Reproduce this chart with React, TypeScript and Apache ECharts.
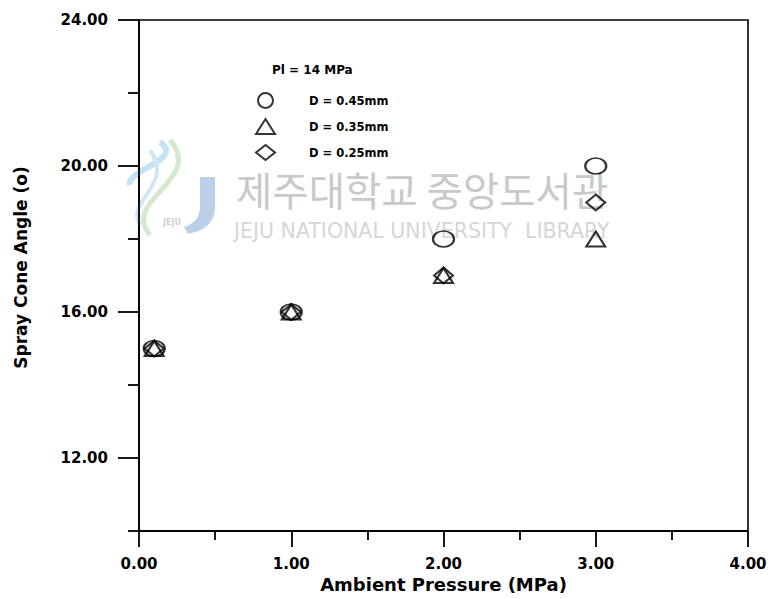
import React, { useEffect, useRef } from "react";
import * as echarts from "echarts";

// Spray cone angle vs ambient pressure, injection pressure 14 MPa
const pressures = [0.1, 1.0, 2.0, 3.0];
const angleD045 = [15, 16, 18, 20];
const angleD035 = [15, 16, 17, 18];
const angleD025 = [15, 16, 17, 19];
const seriesNames = ["D = 0.45mm", "D = 0.35mm", "D = 0.25mm"];
const yMajorTicks = [12, 16, 20, 24];
const yMinorTicks = [10, 14, 18, 22];

const ELLIPSE = "path://M0,50 A50,50 0 1,1 100,50 A50,50 0 1,1 0,50 Z";
const FONT = "DejaVu Sans";

// Library watermark: "J" mark of the logo
echarts.graphic.registerShape(
  "jejuJ",
  echarts.graphic.extendPath(
    "M0,0 L15,0 L15,30 Q15,52 -12,57 L-16,50 Q0,45 0,30 Z",
    {}
  )
);

function pairs(values: number[]) {
  return pressures.map((p, i) => [p, values[i]]);
}

export default function App() {
  const ref = useRef<HTMLDivElement>(null);

  useEffect(() => {
    if (!ref.current) return;
    const chart = echarts.init(ref.current, undefined, { renderer: "svg" });

    const markerStyle = {
      color: "rgba(0,0,0,0)",
      borderColor: "#000",
      borderWidth: 2,
    };

    chart.setOption({
      animation: false,
      backgroundColor: "#fff",
      title: {
        text: "Pl = 14 MPa",
        left: 272,
        top: 64,
        padding: 0,
        textStyle: { fontFamily: FONT, fontWeight: "bold", fontSize: 12, color: "#000" },
      },
      legend: {
        orient: "vertical",
        left: 255,
        top: 92,
        padding: 0,
        itemWidth: 19,
        itemHeight: 15,
        itemGap: 9,
        itemStyle: { color: "rgba(0,0,0,0)", borderColor: "#000", borderWidth: 2 },
        textStyle: {
          fontFamily: FONT,
          fontWeight: "bold",
          fontSize: 11.5,
          color: "#000",
          padding: [0, 0, 0, 29],
        },
        data: seriesNames,
      },
      grid: {
        left: 139,
        top: 20,
        right: 25,
        bottom: 68,
        show: true,
        borderColor: "#000",
        borderWidth: 1.6,
      },
      graphic: [
        {
          type: "group",
          z: -10,
          silent: true,
          children: [
            {
              type: "bezierCurve",
              shape: { x1: 160, y1: 142, x2: 130, y2: 185, cpx1: 185, cpy1: 160, cpx2: 125, cpy2: 170 },
              style: { stroke: "#c5e3f0", lineWidth: 6, fill: "none" },
            },
            {
              type: "bezierCurve",
              shape: { x1: 170, y1: 140, x2: 150, y2: 235, cpx1: 205, cpy1: 180, cpx2: 120, cpy2: 200 },
              style: { stroke: "#d6e9cf", lineWidth: 5, fill: "none" },
            },
            {
              type: "bezierCurve",
              shape: { x1: 150, y1: 150, x2: 140, y2: 225, cpx1: 175, cpy1: 185, cpx2: 125, cpy2: 200 },
              style: { stroke: "#cfe6f3", lineWidth: 4, fill: "none" },
            },
            {
              type: "jejuJ",
              x: 200,
              y: 177,
              style: { fill: "#bccfe8" },
            },
            {
              type: "text",
              x: 172,
              y: 218,
              style: { text: "JEJU", fill: "#cfcfcf", font: "bold 8px 'DejaVu Sans'", align: "center" },
            },
            {
              type: "text",
              x: 236,
              y: 169,
              style: {
                text: "제주대학교 중앙도서관",
                fill: "#c9c9c9",
                font: "39.5px 'Noto Sans CJK KR'",
              },
            },
            {
              type: "text",
              x: 234,
              y: 220,
              style: {
                text: "JEJU NATIONAL UNIVERSITY  LIBRARY",
                fill: "#d6d6d6",
                font: "20.5px 'DejaVu Sans'",
              },
            },
          ],
        },
      ],
      xAxis: {
        type: "value",
        min: 0,
        max: 4,
        interval: 1,
        name: "Ambient Pressure (MPa)",
        nameLocation: "middle",
        nameGap: 44,
        nameTextStyle: { fontFamily: FONT, fontWeight: "bold", fontSize: 18, color: "#000" },
        axisLine: { show: true, lineStyle: { color: "#000", width: 1.8 } },
        axisTick: { show: true, length: 16, lineStyle: { color: "#000", width: 1.8 } },
        minorTick: { show: true, splitNumber: 2, length: 9, lineStyle: { color: "#000", width: 1.8 } },
        splitLine: { show: false },
        axisLabel: {
          margin: 25,
          color: "#000",
          fontFamily: FONT,
          fontWeight: "bold",
          fontSize: 15,
          formatter: (v: number) => v.toFixed(2),
        },
      },
      yAxis: [
        {
          type: "value",
          position: "left",
          min: 10,
          max: 24,
          interval: 2,
          name: "Spray Cone Angle (o)",
          nameLocation: "middle",
          nameGap: 110,
          nameRotate: 90,
          nameTextStyle: {
            fontFamily: FONT,
            fontWeight: "bold",
            fontSize: 17,
            color: "#000",
            padding: [0, 0, 0, 16],
          },
          axisLine: { show: true, lineStyle: { color: "#000", width: 1.8 } },
          axisTick: {
            show: true,
            length: 21,
            customValues: yMajorTicks,
            lineStyle: { color: "#000", width: 1.8 },
          },
          splitLine: { show: false },
          axisLabel: {
            margin: 31,
            color: "#000",
            fontFamily: FONT,
            fontWeight: "bold",
            fontSize: 15,
            customValues: yMajorTicks,
            formatter: (v: number) => v.toFixed(2),
          },
        },
        {
          type: "value",
          position: "left",
          min: 10,
          max: 24,
          interval: 2,
          axisLine: { show: false },
          axisTick: {
            show: true,
            length: 11,
            customValues: yMinorTicks,
            lineStyle: { color: "#000", width: 1.8 },
          },
          axisLabel: { show: false },
          splitLine: { show: false },
        },
      ],
      series: [
        {
          name: seriesNames[0],
          type: "scatter",
          yAxisIndex: 0,
          symbol: ELLIPSE,
          symbolSize: [21, 16],
          itemStyle: markerStyle,
          emphasis: { disabled: true },
          data: pairs(angleD045),
        },
        {
          name: seriesNames[1],
          type: "scatter",
          yAxisIndex: 0,
          symbol: "triangle",
          symbolSize: [19, 15],
          itemStyle: markerStyle,
          emphasis: { disabled: true },
          data: pairs(angleD035),
        },
        {
          name: seriesNames[2],
          type: "scatter",
          yAxisIndex: 0,
          symbol: "diamond",
          symbolSize: [19, 16],
          itemStyle: markerStyle,
          emphasis: { disabled: true },
          data: pairs(angleD025),
        },
      ],
    });

    return () => chart.dispose();
  }, []);

  return <div ref={ref} style={{ width: 773, height: 599, position: "absolute", left: 0, top: 0 }} />;
}
